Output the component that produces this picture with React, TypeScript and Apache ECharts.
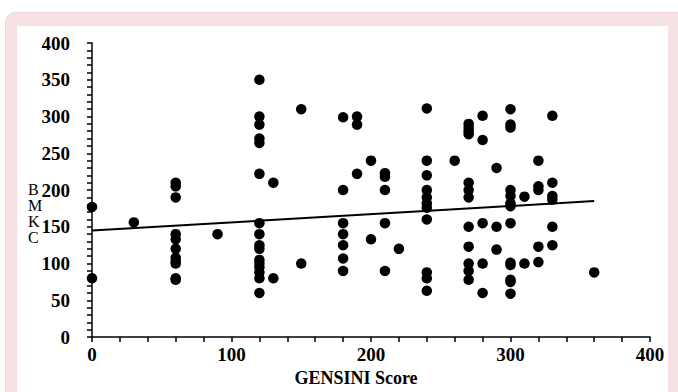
import React, { useEffect, useRef } from "react";
import * as echarts from "echarts";

// GENSINI score groups and the BMKC values observed at each score
const gensiniScores = [0, 30, 60, 90, 120, 130, 150, 180, 190, 200, 210, 220, 240, 260, 270, 280, 290, 300, 310, 320, 330, 360];
const bmkcValues = [
  [177, 80],
  [156],
  [210, 205, 190, 140, 133, 120, 108, 103, 100, 80, 78],
  [140],
  [350, 300, 289, 270, 264, 222, 155, 140, 125, 120, 105, 100, 95, 88, 80, 60],
  [210, 80],
  [310, 100],
  [299, 200, 155, 140, 125, 107, 90],
  [300, 289, 222],
  [240, 133],
  [223, 218, 200, 155, 90],
  [120],
  [311, 240, 220, 200, 190, 182, 176, 160, 88, 80, 63],
  [240],
  [290, 285, 280, 276, 210, 200, 190, 150, 123, 100, 90, 78],
  [301, 268, 155, 100, 60],
  [230, 150, 119],
  [310, 289, 285, 200, 192, 182, 178, 155, 101, 98, 78, 75, 59],
  [191, 100],
  [240, 205, 200, 123, 102],
  [301, 210, 192, 187, 150, 125],
  [88],
];
// fitted trend line end points
const trendX = [0, 360];
const trendY = [145, 185];

const xTickLabels = ["0", "100", "200", "300", "400"];
const yAxisTitle = "B\nM\nK\nC";

const FONT = "'Liberation Serif', 'Times New Roman', serif";

export default function App() {
  const ref = useRef<HTMLDivElement>(null);
  useEffect(() => {
    document.body.style.margin = "0";
    if (!ref.current) return;
    const chart = echarts.init(ref.current, undefined, { renderer: "svg" });
    const points: number[][] = [];
    gensiniScores.forEach((x, i) => bmkcValues[i].forEach((y) => points.push([x, y])));
    const trend = trendX.map((x, i) => [x, trendY[i]]);
    chart.setOption({
      animation: false,
      grid: { left: 92, right: 28, top: 43, bottom: 48, containLabel: false },
      graphic: [
        {
          type: "text",
          left: 28,
          top: 181,
          style: {
            text: yAxisTitle,
            fontFamily: FONT,
            fontSize: 16,
            lineHeight: 16,
            fill: "#000",
            align: "left",
          },
        },
      ],
      xAxis: {
        type: "value",
        min: 0,
        max: 400,
        interval: 100,
        name: "GENSINI Score",
        nameLocation: "middle",
        nameGap: 30,
        nameTextStyle: { fontFamily: FONT, fontWeight: "bold", fontSize: 18, color: "#000", padding: [0, 30, 0, 0] },
        axisLine: { show: true, onZero: false, lineStyle: { color: "#000", width: 1.5 } },
        axisTick: { show: true, length: 5, lineStyle: { color: "#000", width: 1.5 } },
        minorTick: { show: true, splitNumber: 5, length: 5, lineStyle: { color: "#000", width: 1.5 } },
        splitLine: { show: false },
        axisLabel: {
          fontFamily: FONT,
          fontWeight: "bold",
          fontSize: 19,
          color: "#000",
          margin: 8,
          formatter: (v: number) => xTickLabels[Math.round(v / 100)] ?? String(v),
        },
      },
      yAxis: {
        type: "value",
        min: 0,
        max: 400,
        interval: 50,
        axisLine: { show: true, onZero: false, lineStyle: { color: "#000", width: 1.5 } },
        axisTick: { show: true, length: 5, lineStyle: { color: "#000", width: 1.5 } },
        minorTick: { show: true, splitNumber: 5, length: 5, lineStyle: { color: "#000", width: 1.5 } },
        splitLine: { show: false },
        axisLabel: { fontFamily: FONT, fontWeight: "bold", fontSize: 19, color: "#000", margin: 22 },
      },
      series: [
        {
          type: "scatter",
          data: points,
          symbol: "circle",
          symbolSize: 10.5,
          itemStyle: { color: "#000", opacity: 1 },
          z: 3,
        },
        {
          type: "line",
          data: trend,
          symbol: "none",
          lineStyle: { color: "#000", width: 2 },
          z: 2,
        },
      ],
    });
    return () => chart.dispose();
  }, []);
  return (
    <div style={{ position: "relative", width: 678, height: 392, background: "#fff", overflow: "hidden" }}>
      <div
        style={{
          position: "absolute",
          left: 5,
          top: 12,
          width: 700,
          height: 420,
          background: "#f6e1e5",
          border: "1px solid #efd3d9",
          borderRadius: 10,
        }}
      />
      <div style={{ position: "absolute", left: 17, top: 26, width: 651, height: 380, background: "#fff" }} />
      <div ref={ref} style={{ position: "absolute", left: 0, top: 0, width: 678, height: 392 }} />
    </div>
  );
}
